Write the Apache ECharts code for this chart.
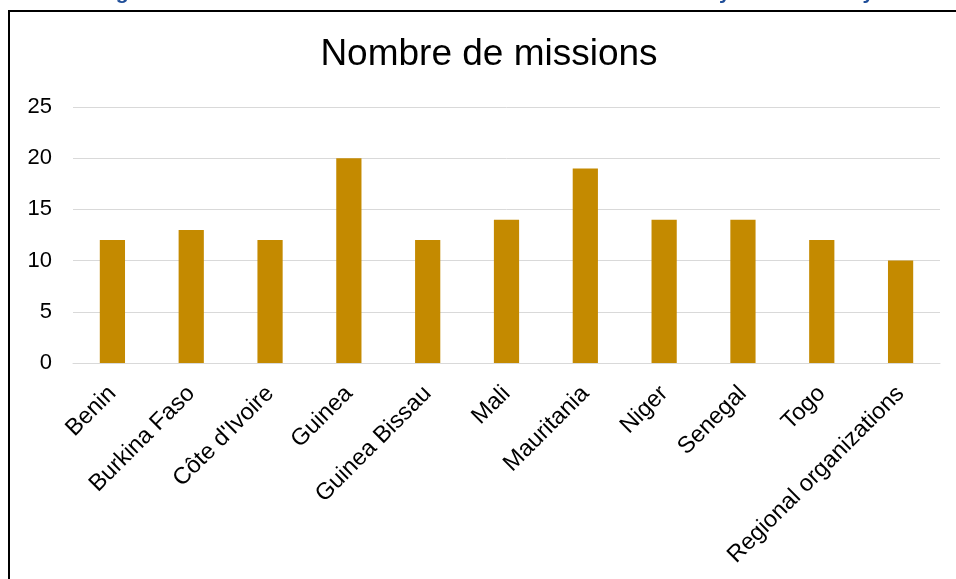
<!DOCTYPE html>
<html>
<head>
<meta charset="utf-8">
<script src="https://cdn.jsdelivr.net/npm/echarts@6/dist/echarts.min.js"></script>
<style>
  html, body { margin: 0; padding: 0; background: #ffffff; }
  #chart { width: 956px; height: 579px; }
</style>
</head>
<body>
<div id="chart"></div>
<script>
// Missions per beneficiary
const countries = [
  'Benin', 'Burkina Faso', "Côte d'Ivoire", 'Guinea', 'Guinea Bissau',
  'Mali', 'Mauritania', 'Niger', 'Senegal', 'Togo', 'Regional organizations'
];
const missions = [12, 13, 12, 20, 12, 14, 19, 14, 14, 12, 10];
const yTicks = [0, 5, 10, 15, 20, 25];

const chartTitle = 'Nombre de missions';
const headingText = 'Figure 7. Number of technical assistance missions delivered by client country';

const FONT = '"Liberation Sans", Arial, sans-serif';

const chart = echarts.init(document.getElementById('chart'), null, { renderer: 'canvas' });

chart.setOption({
  backgroundColor: '#ffffff',
  animation: false,
  title: {
    text: chartTitle,
    left: 484,
    top: 31,
    textAlign: 'center',
    textStyle: { fontFamily: FONT, fontSize: 37, fontWeight: 'normal', color: '#000000' }
  },
  graphic: [
    {
      // page heading above the chart frame (clipped by the top edge)
      type: 'text',
      left: 97,
      top: -17,
      style: {
        text: headingText,
        font: 'bold 21px ' + FONT,
        fill: '#1F4E99'
      },
      z: 10
    },
    {
      // chart frame
      type: 'rect',
      shape: { x: 9, y: 11, width: 1200, height: 1000 },
      style: { fill: 'none', stroke: '#000000', lineWidth: 2 },
      z: 10
    }
  ],
  grid: { left: 73, right: 16, top: 107, bottom: 216 },
  xAxis: {
    type: 'category',
    data: countries,
    axisLine: { show: true, lineStyle: { color: '#d9d9d9', width: 1 } },
    axisTick: { show: false },
    axisLabel: {
      interval: 0,
      rotate: 45,
      margin: 27,
      fontFamily: FONT,
      fontSize: 23.5,
      color: '#000000'
    }
  },
  yAxis: {
    type: 'value',
    min: yTicks[0],
    max: yTicks[yTicks.length - 1],
    interval: yTicks[1] - yTicks[0],
    axisLine: { show: false },
    axisTick: { show: false },
    splitLine: { lineStyle: { color: '#d9d9d9', width: 1 } },
    axisLabel: {
      margin: 21,
      fontFamily: FONT,
      fontSize: 22,
      color: '#000000'
    }
  },
  series: [{
    type: 'bar',
    data: missions,
    barWidth: '32%',
    itemStyle: { color: '#C48A00' }
  }]
});
</script>
</body>
</html>
